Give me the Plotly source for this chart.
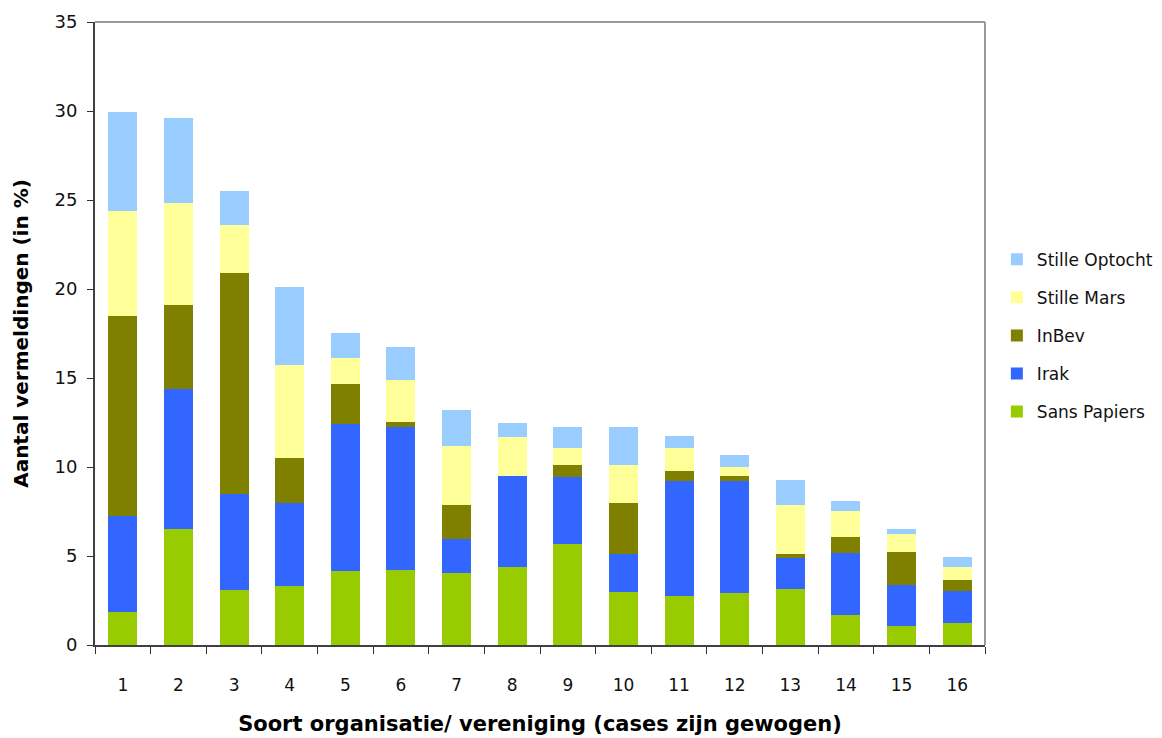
import plotly.graph_objects as go

categories = [str(i) for i in range(1, 17)]
sans_papiers = [1.86, 6.53, 3.11, 3.33, 4.17, 4.19, 4.02, 4.41, 5.65, 2.95, 2.73, 2.90, 3.12, 1.66, 1.05, 1.22]
irak = [5.39, 7.86, 5.35, 4.67, 8.25, 8.07, 1.93, 5.11, 3.81, 2.14, 6.47, 6.30, 1.74, 3.50, 2.32, 1.81]
inbev = [11.23, 4.71, 12.44, 2.52, 2.25, 0.28, 1.94, 0.0, 0.67, 2.91, 0.60, 0.32, 0.28, 0.93, 1.88, 0.65]
stille_mars = [5.89, 5.73, 2.69, 5.21, 1.46, 2.36, 3.31, 2.18, 0.96, 2.13, 1.29, 0.50, 2.75, 1.46, 0.96, 0.73]
stille_optocht = [5.55, 4.77, 1.90, 4.37, 1.41, 1.85, 2.02, 0.79, 1.17, 2.13, 0.67, 0.67, 1.40, 0.56, 0.33, 0.56]

series = [
    ("Sans Papiers", sans_papiers, "#99CC00"),
    ("Irak", irak, "#3366FF"),
    ("InBev", inbev, "#808000"),
    ("Stille Mars", stille_mars, "#FFFF99"),
    ("Stille Optocht", stille_optocht, "#99CCFF"),
]

fig = go.Figure()
n = len(series)
for i, (name, vals, col) in enumerate(series):
    fig.add_trace(go.Bar(x=categories, y=vals, name=name, marker_color=col,
                         marker_line_width=0, legendgroup=name, legendrank=n - i))

font_family = "DejaVu Sans, Liberation Sans, sans-serif"
fig.update_layout(
    barmode="stack",
    bargap=0.48,
    width=1162, height=738,
    margin=dict(l=87, r=185, t=14, b=101, autoexpand=False),
    plot_bgcolor="white", paper_bgcolor="white",
    font=dict(family=font_family, size=16, color="#111111"),
    legend=dict(traceorder="grouped", tracegroupgap=13,
                xref="container", yref="container",
                x=0.851, xanchor="left", y=0.556, yanchor="middle",
                font=dict(size=17, color="#111111"), itemwidth=30),
    xaxis=dict(type="category", tickson="boundaries", ticks="outside", ticklen=7,
               tickcolor="#333333", showline=True, linecolor="#404040", linewidth=2,
               showgrid=False, tickfont=dict(size=17), ticklabelstandoff=24,
               automargin=False,
               title=dict(text="Soort organisatie/ vereniging (cases zijn gewogen)",
                          font=dict(size=21, color="#000000", weight="bold"), standoff=22)),
    yaxis=dict(range=[0, 35], dtick=5, ticks="outside", ticklen=6, tickcolor="#333333",
               showline=True, linecolor="#404040", linewidth=2, showgrid=False,
               tickfont=dict(size=18), ticklabelstandoff=6, automargin=False,
               title=dict(text="Aantal vermeldingen (in %)",
                          font=dict(size=20, color="#000000", weight="bold"), standoff=20)),
    shapes=[
        dict(type="line", xref="paper", yref="paper", x0=0, x1=1, y0=1, y1=1,
             line=dict(color="#999999", width=2)),
        dict(type="line", xref="paper", yref="paper", x0=1, x1=1, y0=0, y1=1,
             line=dict(color="#999999", width=2)),
    ],
)

fig.write_html("out.html")
